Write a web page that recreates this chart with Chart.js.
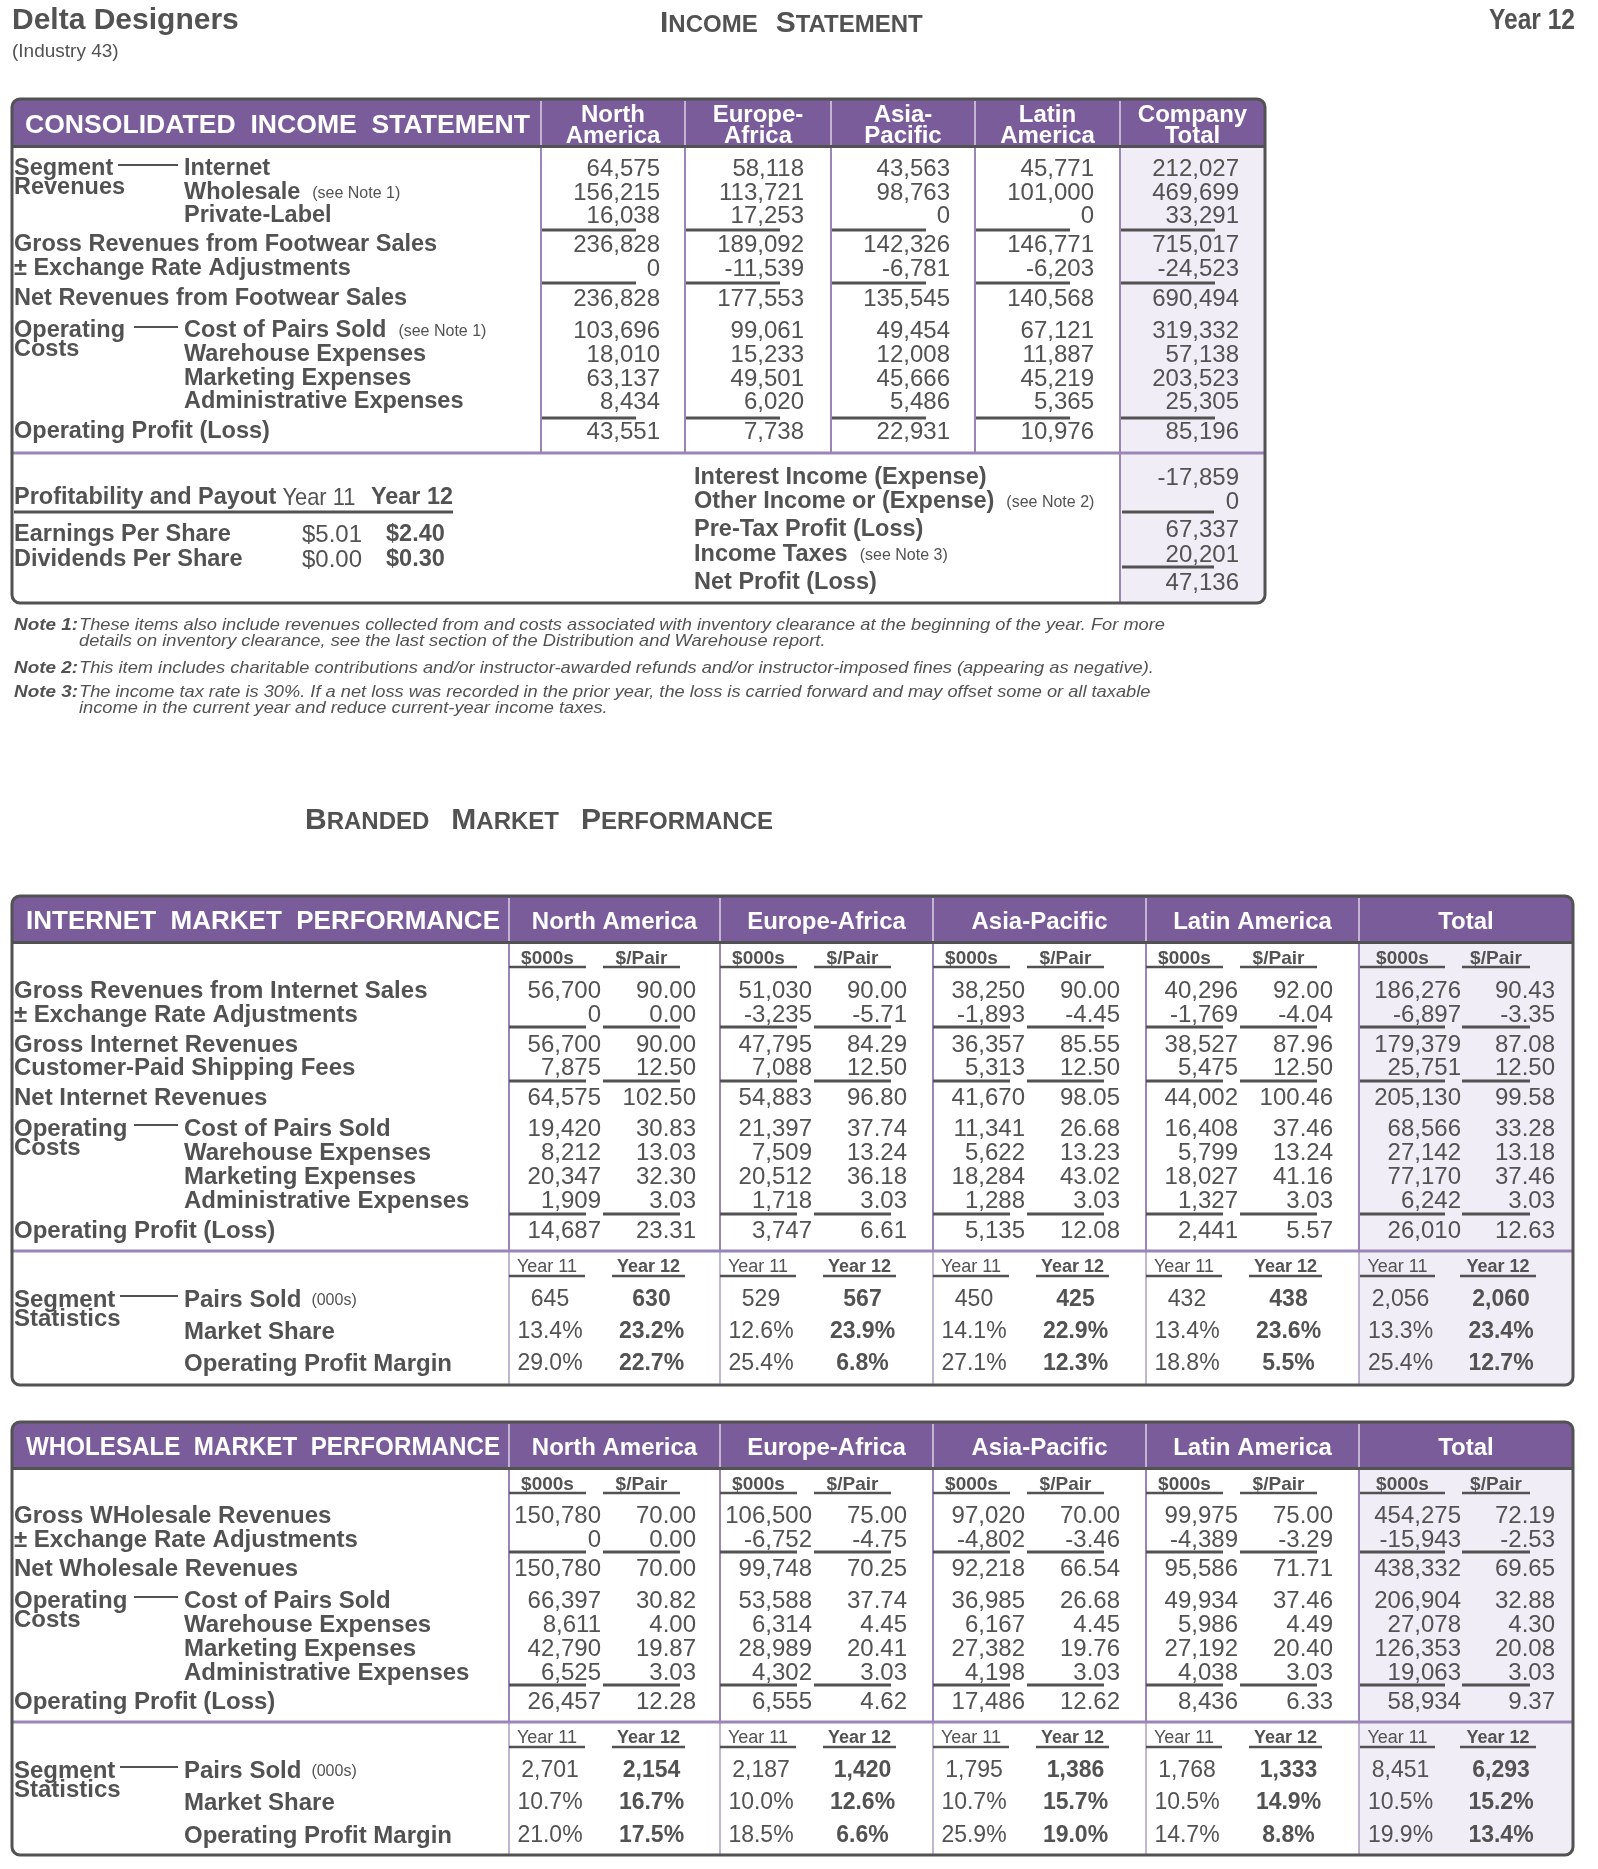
<!DOCTYPE html>
<html>
<head>
<meta charset="utf-8">
<title>Delta Designers - Income Statement</title>
<script src="https://cdn.jsdelivr.net/npm/chart.js@4.4.1/dist/chart.umd.min.js"></script>
<style>
  html, body { margin: 0; padding: 0; background: #fff; }
  canvas { display: block; }
</style>
</head>
<body>
<canvas id="report" width="1598" height="1869"></canvas>
<script>
// ---- values (order: North America, Europe-Africa, Asia-Pacific, Latin America, Total) ----
var consolHeads = [['North', 'America'], ['Europe-', 'Africa'], ['Asia-', 'Pacific'], ['Latin', 'America'], ['Company', 'Total']];
var marketHeads = ['North America', 'Europe-Africa', 'Asia-Pacific', 'Latin America', 'Total'];

var segInternet = [64575, 58118, 43563, 45771, 212027];
var segWholesale = [156215, 113721, 98763, 101000, 469699];
var segPrivateLabel = [16038, 17253, 0, 0, 33291];
var grossFootwear = [236828, 189092, 142326, 146771, 715017];
var exchangeAdj = [0, -11539, -6781, -6203, -24523];
var netFootwear = [236828, 177553, 135545, 140568, 690494];
var costPairs = [103696, 99061, 49454, 67121, 319332];
var warehouseExp = [18010, 15233, 12008, 11887, 57138];
var marketingExp = [63137, 49501, 45666, 45219, 203523];
var adminExp = [8434, 6020, 5486, 5365, 25305];
var operatingProfit = [43551, 7738, 22931, 10976, 85196];

var consolLabels = ['Internet', 'Wholesale', 'Private-Label', 'Gross Revenues from Footwear Sales',
  '± Exchange Rate Adjustments', 'Net Revenues from Footwear Sales', 'Cost of Pairs Sold',
  'Warehouse Expenses', 'Marketing Expenses', 'Administrative Expenses', 'Operating Profit (Loss)'];
var consolNotes = ['', '(see Note 1)', '', '', '', '', '(see Note 1)', '', '', '', ''];

var bottomLabels = ['Interest Income (Expense)', 'Other Income or (Expense)', 'Pre-Tax Profit (Loss)', 'Income Taxes', 'Net Profit (Loss)'];
var bottomNotes = ['', '(see Note 2)', '', '(see Note 3)', ''];
var bottomValues = [-17859, 0, 67337, 20201, 47136];

var payoutLabels = ['Earnings Per Share', 'Dividends Per Share'];
var payoutYear11 = [5.01, 0.00];
var payoutYear12 = [2.40, 0.30];

// internet segment: $000s and $/pair
var intGross000 = [56700, 51030, 38250, 40296, 186276];
var intGrossPair = [90.00, 90.00, 90.00, 92.00, 90.43];
var intExch000 = [0, -3235, -1893, -1769, -6897];
var intExchPair = [0.00, -5.71, -4.45, -4.04, -3.35];
var intGrossNet000 = [56700, 47795, 36357, 38527, 179379];
var intGrossNetPair = [90.00, 84.29, 85.55, 87.96, 87.08];
var intShip000 = [7875, 7088, 5313, 5475, 25751];
var intShipPair = [12.50, 12.50, 12.50, 12.50, 12.50];
var intNet000 = [64575, 54883, 41670, 44002, 205130];
var intNetPair = [102.50, 96.80, 98.05, 100.46, 99.58];
var intCost000 = [19420, 21397, 11341, 16408, 68566];
var intCostPair = [30.83, 37.74, 26.68, 37.46, 33.28];
var intWare000 = [8212, 7509, 5622, 5799, 27142];
var intWarePair = [13.03, 13.24, 13.23, 13.24, 13.18];
var intMkt000 = [20347, 20512, 18284, 18027, 77170];
var intMktPair = [32.30, 36.18, 43.02, 41.16, 37.46];
var intAdmin000 = [1909, 1718, 1288, 1327, 6242];
var intAdminPair = [3.03, 3.03, 3.03, 3.03, 3.03];
var intOp000 = [14687, 3747, 5135, 2441, 26010];
var intOpPair = [23.31, 6.61, 12.08, 5.57, 12.63];
var intPairsY11 = [645, 529, 450, 432, 2056];
var intPairsY12 = [630, 567, 425, 438, 2060];
var intShareY11 = [13.4, 12.6, 14.1, 13.4, 13.3];
var intShareY12 = [23.2, 23.9, 22.9, 23.6, 23.4];
var intMarginY11 = [29.0, 25.4, 27.1, 18.8, 25.4];
var intMarginY12 = [22.7, 6.8, 12.3, 5.5, 12.7];

// wholesale segment
var whGross000 = [150780, 106500, 97020, 99975, 454275];
var whGrossPair = [70.00, 75.00, 70.00, 75.00, 72.19];
var whExch000 = [0, -6752, -4802, -4389, -15943];
var whExchPair = [0.00, -4.75, -3.46, -3.29, -2.53];
var whNet000 = [150780, 99748, 92218, 95586, 438332];
var whNetPair = [70.00, 70.25, 66.54, 71.71, 69.65];
var whCost000 = [66397, 53588, 36985, 49934, 206904];
var whCostPair = [30.82, 37.74, 26.68, 37.46, 32.88];
var whWare000 = [8611, 6314, 6167, 5986, 27078];
var whWarePair = [4.00, 4.45, 4.45, 4.49, 4.30];
var whMkt000 = [42790, 28989, 27382, 27192, 126353];
var whMktPair = [19.87, 20.41, 19.76, 20.40, 20.08];
var whAdmin000 = [6525, 4302, 4198, 4038, 19063];
var whAdminPair = [3.03, 3.03, 3.03, 3.03, 3.03];
var whOp000 = [26457, 6555, 17486, 8436, 58934];
var whOpPair = [12.28, 4.62, 12.62, 6.33, 9.37];
var whPairsY11 = [2701, 2187, 1795, 1768, 8451];
var whPairsY12 = [2154, 1420, 1386, 1333, 6293];
var whShareY11 = [10.7, 10.0, 10.7, 10.5, 10.5];
var whShareY12 = [16.7, 12.6, 15.7, 14.9, 15.2];
var whMarginY11 = [21.0, 18.5, 25.9, 14.7, 19.9];
var whMarginY12 = [17.5, 6.6, 19.0, 8.8, 13.4];

var statLabels = ['Pairs Sold', 'Market Share', 'Operating Profit Margin'];

var noteHeads = ['Note 1:', 'Note 2:', 'Note 3:'];
var noteLines = [
  ['These items also include revenues collected from and costs associated with inventory clearance at the beginning of the year. For more',
   'details on inventory clearance, see the last section of the Distribution and Warehouse report.'],
  ['This item includes charitable contributions and/or instructor-awarded refunds and/or instructor-imposed fines (appearing as negative).'],
  ['The income tax rate is 30%. If a net loss was recorded in the prior year, the loss is carried forward and may offset some or all taxable',
   'income in the current year and reduce current-year income taxes.']
];

// tables built from the arrays above
var consolValues = [segInternet, segWholesale, segPrivateLabel, grossFootwear, exchangeAdj, netFootwear,
  costPairs, warehouseExp, marketingExp, adminExp, operatingProfit];

var internetTable = {
  title: 'INTERNET  MARKET  PERFORMANCE',
  labels: ['Gross Revenues from Internet Sales', '± Exchange Rate Adjustments', 'Gross Internet Revenues',
    'Customer-Paid Shipping Fees', 'Net Internet Revenues', 'Cost of Pairs Sold', 'Warehouse Expenses',
    'Marketing Expenses', 'Administrative Expenses', 'Operating Profit (Loss)'],
  v000: [intGross000, intExch000, intGrossNet000, intShip000, intNet000, intCost000, intWare000, intMkt000, intAdmin000, intOp000],
  vPair: [intGrossPair, intExchPair, intGrossNetPair, intShipPair, intNetPair, intCostPair, intWarePair, intMktPair, intAdminPair, intOpPair],
  stats: [[intPairsY11, intPairsY12], [intShareY11, intShareY12], [intMarginY11, intMarginY12]]
};
var wholesaleTable = {
  title: 'WHOLESALE  MARKET  PERFORMANCE',
  labels: ['Gross WHolesale Revenues', '± Exchange Rate Adjustments', 'Net Wholesale Revenues',
    'Cost of Pairs Sold', 'Warehouse Expenses', 'Marketing Expenses', 'Administrative Expenses', 'Operating Profit (Loss)'],
  v000: [whGross000, whExch000, whNet000, whCost000, whWare000, whMkt000, whAdmin000, whOp000],
  vPair: [whGrossPair, whExchPair, whNetPair, whCostPair, whWarePair, whMktPair, whAdminPair, whOpPair],
  stats: [[whPairsY11, whPairsY12], [whShareY11, whShareY12], [whMarginY11, whMarginY12]]
};

// ---- layout and style ----
var PAGE_W = 1598, PAGE_H = 1869;
var INK = '#525252', PURPLE = '#7b5c9b', RULE = '#9a85b6', LAV = '#f0edf6', WHITE = '#ffffff';
var SANS = '"Liberation Sans", Arial, Helvetica, sans-serif';
var F = {
  title: { w: 'bold', s: 30 }, sub: { s: 19 },
  band: { w: 'bold', s: 26 }, head: { w: 'bold', s: 24 },
  label: { w: 'bold', s: 24 }, clabel: { w: 'bold', s: 23.5 },
  num: { s: 24 }, small: { s: 16 }, colSub: { w: 'bold', s: 19 },
  year: { s: 18 }, yearB: { w: 'bold', s: 18 },
  stat: { s: 23 }, statB: { w: 'bold', s: 23 },
  note: { i: true, s: 17 }, noteB: { i: true, w: 'bold', s: 17 }
};
var consolLayout = {
  l: 12, r: 1265, top: 99, head: 145, mid: 453, bot: 603,
  cols: [541, 685, 831, 975, 1120, 1265],
  rowY: [167, 191, 214, 243, 267, 297, 329, 353, 377, 400, 430],
  indent: [1, 1, 1, 0, 0, 0, 1, 1, 1, 1, 0],
  ruleY: [230, 283, 418],
  lowY: [476, 500, 528, 553, 581], lowRuleY: [512, 567],
  payY: [533, 558]
};
var marketCols = [509, 720, 933, 1146, 1359, 1573];
var subReg = { n1: 92, n2: 187, u1: [0, 77], u2: [94, 171], yu1: [0, 76], yu2: [103, 176] };
var subTot = { n1: 102, n2: 196, u1: [1, 86], u2: [103, 171], yu1: [1, 76], yu2: [101, 177] };
var internetLayout = {
  top: 896, bot: 1385, rowDY: [93, 117, 147, 170, 200, 231, 255, 279, 303, 333],
  ruleDY: [131, 185, 318], indentFrom: 5, indentTo: 8, statLine: 355, yearDY: 370, statDY: [402, 434, 466]
};
var wholesaleLayout = {
  top: 1422, bot: 1855, rowDY: [92, 116, 145, 177, 201, 225, 249, 278],
  ruleDY: [130, 263], indentFrom: 3, indentTo: 6, statLine: 300, yearDY: 315, statDY: [347, 379, 412]
};

function fmtInt(v) { return v.toLocaleString('en-US'); }
function fmtPair(v) { return v.toFixed(2); }
function fmtPct(v) { return v.toFixed(1) + '%'; }
function fmtUsd(v) { return '$' + v.toFixed(2); }

var reportPlugin = {
  id: 'incomeReport',
  afterDraw: function (chart) {
    var ctx = chart.ctx, xs = chart.scales.x, ys = chart.scales.y;
    function X(v) { return xs.getPixelForValue(v); }
    function Y(v) { return ys.getPixelForValue(v); }
    function font(f) { return (f.i ? 'italic ' : '') + (f.w || 'normal') + ' ' + f.s + 'px ' + SANS; }

    function text(s, x, cy, f, align, color, fit) {
      ctx.save();
      ctx.font = font(f);
      ctx.fillStyle = color || INK;
      ctx.textAlign = align || 'left';
      ctx.textBaseline = 'alphabetic';
      var w = ctx.measureText(s).width, k = fit ? fit / w : 1;
      ctx.translate(X(x), Y(cy) + f.s * 0.36);
      ctx.scale(k, 1);
      ctx.fillText(s, 0, 0);
      ctx.restore();
      return w * k;
    }
    function hline(x1, x2, y, lw, c) {
      ctx.save(); ctx.strokeStyle = c || INK; ctx.lineWidth = lw || 3;
      ctx.beginPath(); ctx.moveTo(X(x1), Y(y)); ctx.lineTo(X(x2), Y(y)); ctx.stroke(); ctx.restore();
    }
    function vline(x, y1, y2, lw, c) {
      ctx.save(); ctx.strokeStyle = c || RULE; ctx.lineWidth = lw || 2;
      ctx.beginPath(); ctx.moveTo(X(x), Y(y1)); ctx.lineTo(X(x), Y(y2)); ctx.stroke(); ctx.restore();
    }
    function fill(x1, y1, x2, y2, c) {
      ctx.fillStyle = c; ctx.fillRect(X(x1), Y(y1), X(x2) - X(x1), Y(y2) - Y(y1));
    }
    function boxPath(l, r, top, bot) {
      ctx.beginPath(); ctx.roundRect(X(l), Y(top), X(r) - X(l), Y(bot) - Y(top), 8);
    }
    function panel(l, r, top, head, bot, tl, tr) {
      ctx.save(); boxPath(l, r, top, bot); ctx.clip();
      fill(l, top, r, head, PURPLE);
      fill(tl, head, tr, bot, LAV);
      ctx.restore();
    }
    function frame(l, r, top, bot) {
      ctx.save(); ctx.strokeStyle = INK; ctx.lineWidth = 3; boxPath(l, r, top, bot); ctx.stroke(); ctx.restore();
    }
    function smallCaps(words, x, base, big, small, gap) {
      ctx.save(); ctx.fillStyle = INK; ctx.textBaseline = 'alphabetic'; ctx.textAlign = 'left';
      var cx = X(x);
      words.forEach(function (wd) {
        ctx.font = 'bold ' + big + 'px ' + SANS;
        ctx.fillText(wd[0], cx, Y(base)); cx += ctx.measureText(wd[0]).width;
        var rest = wd.slice(1).toUpperCase();
        ctx.font = 'bold ' + small + 'px ' + SANS;
        ctx.fillText(rest, cx, Y(base)); cx += ctx.measureText(rest).width + gap;
      });
      ctx.restore();
    }
    function group(a, b, y, dashFrom, f) {
      text(a, 14, y, f); text(b, 14, y + 19, f);
      hline(dashFrom, 178, y - 2, 2);
    }

    // page heading
    text('Delta Designers', 12, 18, F.title);
    text('(Industry 43)', 12, 50, F.sub);
    smallCaps(['Income', 'Statement'], 660, 32, 30, 24, 18);
    text('Year 12', 1575, 18, F.title, 'right', INK, 86);

    // consolidated income statement
    var C = consolLayout;
    panel(C.l, C.r, C.top, C.head, C.bot, C.cols[4], C.cols[5]);
    text('CONSOLIDATED  INCOME  STATEMENT', 25, 124, F.band, 'left', WHITE, 505);
    consolHeads.forEach(function (h, i) {
      var cx = (C.cols[i] + C.cols[i + 1]) / 2;
      text(h[0], cx, 113, F.head, 'center', WHITE);
      text(h[1], cx, 134, F.head, 'center', WHITE);
    });
    for (var i = 0; i < 5; i++) {
      vline(C.cols[i], C.top + 2, C.head, 2, 'rgba(255,255,255,0.55)');
      vline(C.cols[i], C.head, C.mid, 2, RULE);
    }
    hline(C.l, C.r, C.head + 1.5, 3, INK);
    consolLabels.forEach(function (lab, r) {
      var x = C.indent[r] ? 184 : 14;
      var w = text(lab, x, C.rowY[r], F.clabel);
      if (consolNotes[r]) text(consolNotes[r], x + w + 12, C.rowY[r] + 1, F.small);
      consolValues[r].forEach(function (v, c) {
        text(fmtInt(v), C.cols[c] + 119, C.rowY[r], F.num, 'right');
      });
    });
    C.ruleY.forEach(function (y) {
      for (var c = 0; c < 5; c++) hline(C.cols[c] + 1, C.cols[c] + 95, y, 3);
    });
    group('Segment', 'Revenues', C.rowY[0], 118, F.clabel);
    group('Operating', 'Costs', C.rowY[6], 134, F.clabel);
    hline(C.l, C.r, C.mid, 3, RULE);
    vline(C.cols[4], C.mid, C.bot, 2, RULE);

    bottomLabels.forEach(function (lab, r) {
      var w = text(lab, 694, C.lowY[r], F.clabel);
      if (bottomNotes[r]) text(bottomNotes[r], 694 + w + 12, C.lowY[r] + 1, F.small);
      text(fmtInt(bottomValues[r]), C.cols[4] + 119, C.lowY[r], F.num, 'right');
    });
    C.lowRuleY.forEach(function (y) { hline(C.cols[4] + 2, C.cols[4] + 94, y, 3); });

    var pw = text('Profitability and Payout', 14, 496, F.clabel);
    text('Year 11', 14 + pw + 6, 496, F.num, 'left', INK, 73);
    text('Year 12', 371, 496, F.clabel, 'left', INK, 82);
    hline(14, 453, 512, 3);
    payoutLabels.forEach(function (lab, r) {
      text(lab, 14, C.payY[r], F.clabel);
      text(fmtUsd(payoutYear11[r]), 302, C.payY[r], F.num);
      text(fmtUsd(payoutYear12[r]), 386, C.payY[r], F.clabel);
    });
    frame(C.l, C.r, C.top, C.bot);

    // notes
    ctx.save(); ctx.font = font(F.note);
    var noteFit = 1086 / ctx.measureText(noteLines[0][0]).width;
    ctx.restore();
    var noteY = [[624, 640], [667], [691, 707]];
    noteHeads.forEach(function (h, n) {
      text(h, 14, noteY[n][0], F.noteB, 'left', INK, 64);
      noteLines[n].forEach(function (line, j) {
        ctx.save(); ctx.font = font(F.note);
        var w = ctx.measureText(line).width * noteFit;
        ctx.restore();
        text(line, 79, noteY[n][j], F.note, 'left', INK, w);
      });
    });

    smallCaps(['Branded', 'Market', 'Performance'], 305, 829, 30, 24, 22);

    // market performance panels
    function market(T, L) {
      var cols = marketCols, l = 12, r = 1573, head = L.top + 45, top = L.top;
      panel(l, r, top, head, L.bot, cols[4], cols[5]);
      text(T.title, 26, top + 24, F.band, 'left', WHITE, 474);
      marketHeads.forEach(function (h, i) {
        text(h, (cols[i] + cols[i + 1]) / 2, top + 24, F.head, 'center', WHITE);
      });
      for (var c = 0; c < 5; c++) {
        vline(cols[c], top + 2, head, 2, 'rgba(255,255,255,0.55)');
        vline(cols[c], head, top + L.statLine, 2, RULE);
        vline(cols[c], top + L.statLine, L.bot, 1.2, RULE);
      }
      hline(l, r, head + 1.5, 3, INK);
      hline(l, r, top + L.statLine, 3, RULE);

      for (c = 0; c < 5; c++) {
        var g = c === 4 ? subTot : subReg, x0 = cols[c];
        text('$000s', x0 + (g.u1[0] + g.u1[1]) / 2, top + 61, F.colSub, 'center');
        text('$/Pair', x0 + (g.u2[0] + g.u2[1]) / 2, top + 61, F.colSub, 'center');
        hline(x0 + g.u1[0], x0 + g.u1[1], top + 71, 2.5);
        hline(x0 + g.u2[0], x0 + g.u2[1], top + 71, 2.5);
        L.ruleDY.forEach(function (dy) {
          hline(x0 + g.u1[0], x0 + g.u1[1], top + dy, 3);
          hline(x0 + g.u2[0], x0 + g.u2[1], top + dy, 3);
        });
        T.labels.forEach(function (lab, ri) {
          var y = top + L.rowDY[ri];
          text(fmtInt(T.v000[ri][c]), x0 + g.n1, y, F.num, 'right');
          text(fmtPair(T.vPair[ri][c]), x0 + g.n2, y, F.num, 'right');
        });
        var yy = top + L.yearDY;
        text('Year 11', x0 + (g.yu1[0] + g.yu1[1]) / 2, yy, F.year, 'center');
        text('Year 12', x0 + (g.yu2[0] + g.yu2[1]) / 2, yy, F.yearB, 'center');
        hline(x0 + g.yu1[0], x0 + g.yu1[1], yy + 10, 2.5);
        hline(x0 + g.yu2[0], x0 + g.yu2[1], yy + 10, 2.5);
        T.stats.forEach(function (pair, si) {
          var f = si === 0 ? fmtInt : fmtPct, sy = top + L.statDY[si];
          text(f(pair[0][c]), x0 + (g.yu1[0] + g.yu1[1]) / 2 + 3, sy, F.stat, 'center');
          text(f(pair[1][c]), x0 + (g.yu2[0] + g.yu2[1]) / 2 + 3, sy, F.statB, 'center');
        });
      }
      T.labels.forEach(function (lab, ri) {
        var ind = ri >= L.indentFrom && ri <= L.indentTo;
        text(lab, ind ? 184 : 14, top + L.rowDY[ri], F.label);
      });
      group('Operating', 'Costs', top + L.rowDY[L.indentFrom], 134, F.label);
      group('Segment', 'Statistics', top + L.statDY[0], 120, F.label);
      statLabels.forEach(function (lab, si) {
        var w = text(lab, 184, top + L.statDY[si], F.label);
        if (si === 0) text('(000s)', 184 + w + 10, top + L.statDY[si] + 1, F.small);
      });
      frame(l, r, top, L.bot);
    }
    market(internetTable, internetLayout);
    market(wholesaleTable, wholesaleLayout);
  }
};

var reportChart = new Chart(document.getElementById('report').getContext('2d'), {
  type: 'scatter',
  data: { datasets: [] },
  options: {
    responsive: false,
    animation: false,
    devicePixelRatio: 1,
    events: [],
    layout: { padding: 0 },
    plugins: { legend: { display: false }, tooltip: { enabled: false } },
    scales: {
      x: { type: 'linear', min: 0, max: PAGE_W, display: false },
      y: { type: 'linear', min: 0, max: PAGE_H, reverse: true, display: false }
    }
  },
  plugins: [reportPlugin]
});
</script>
</body>
</html>
